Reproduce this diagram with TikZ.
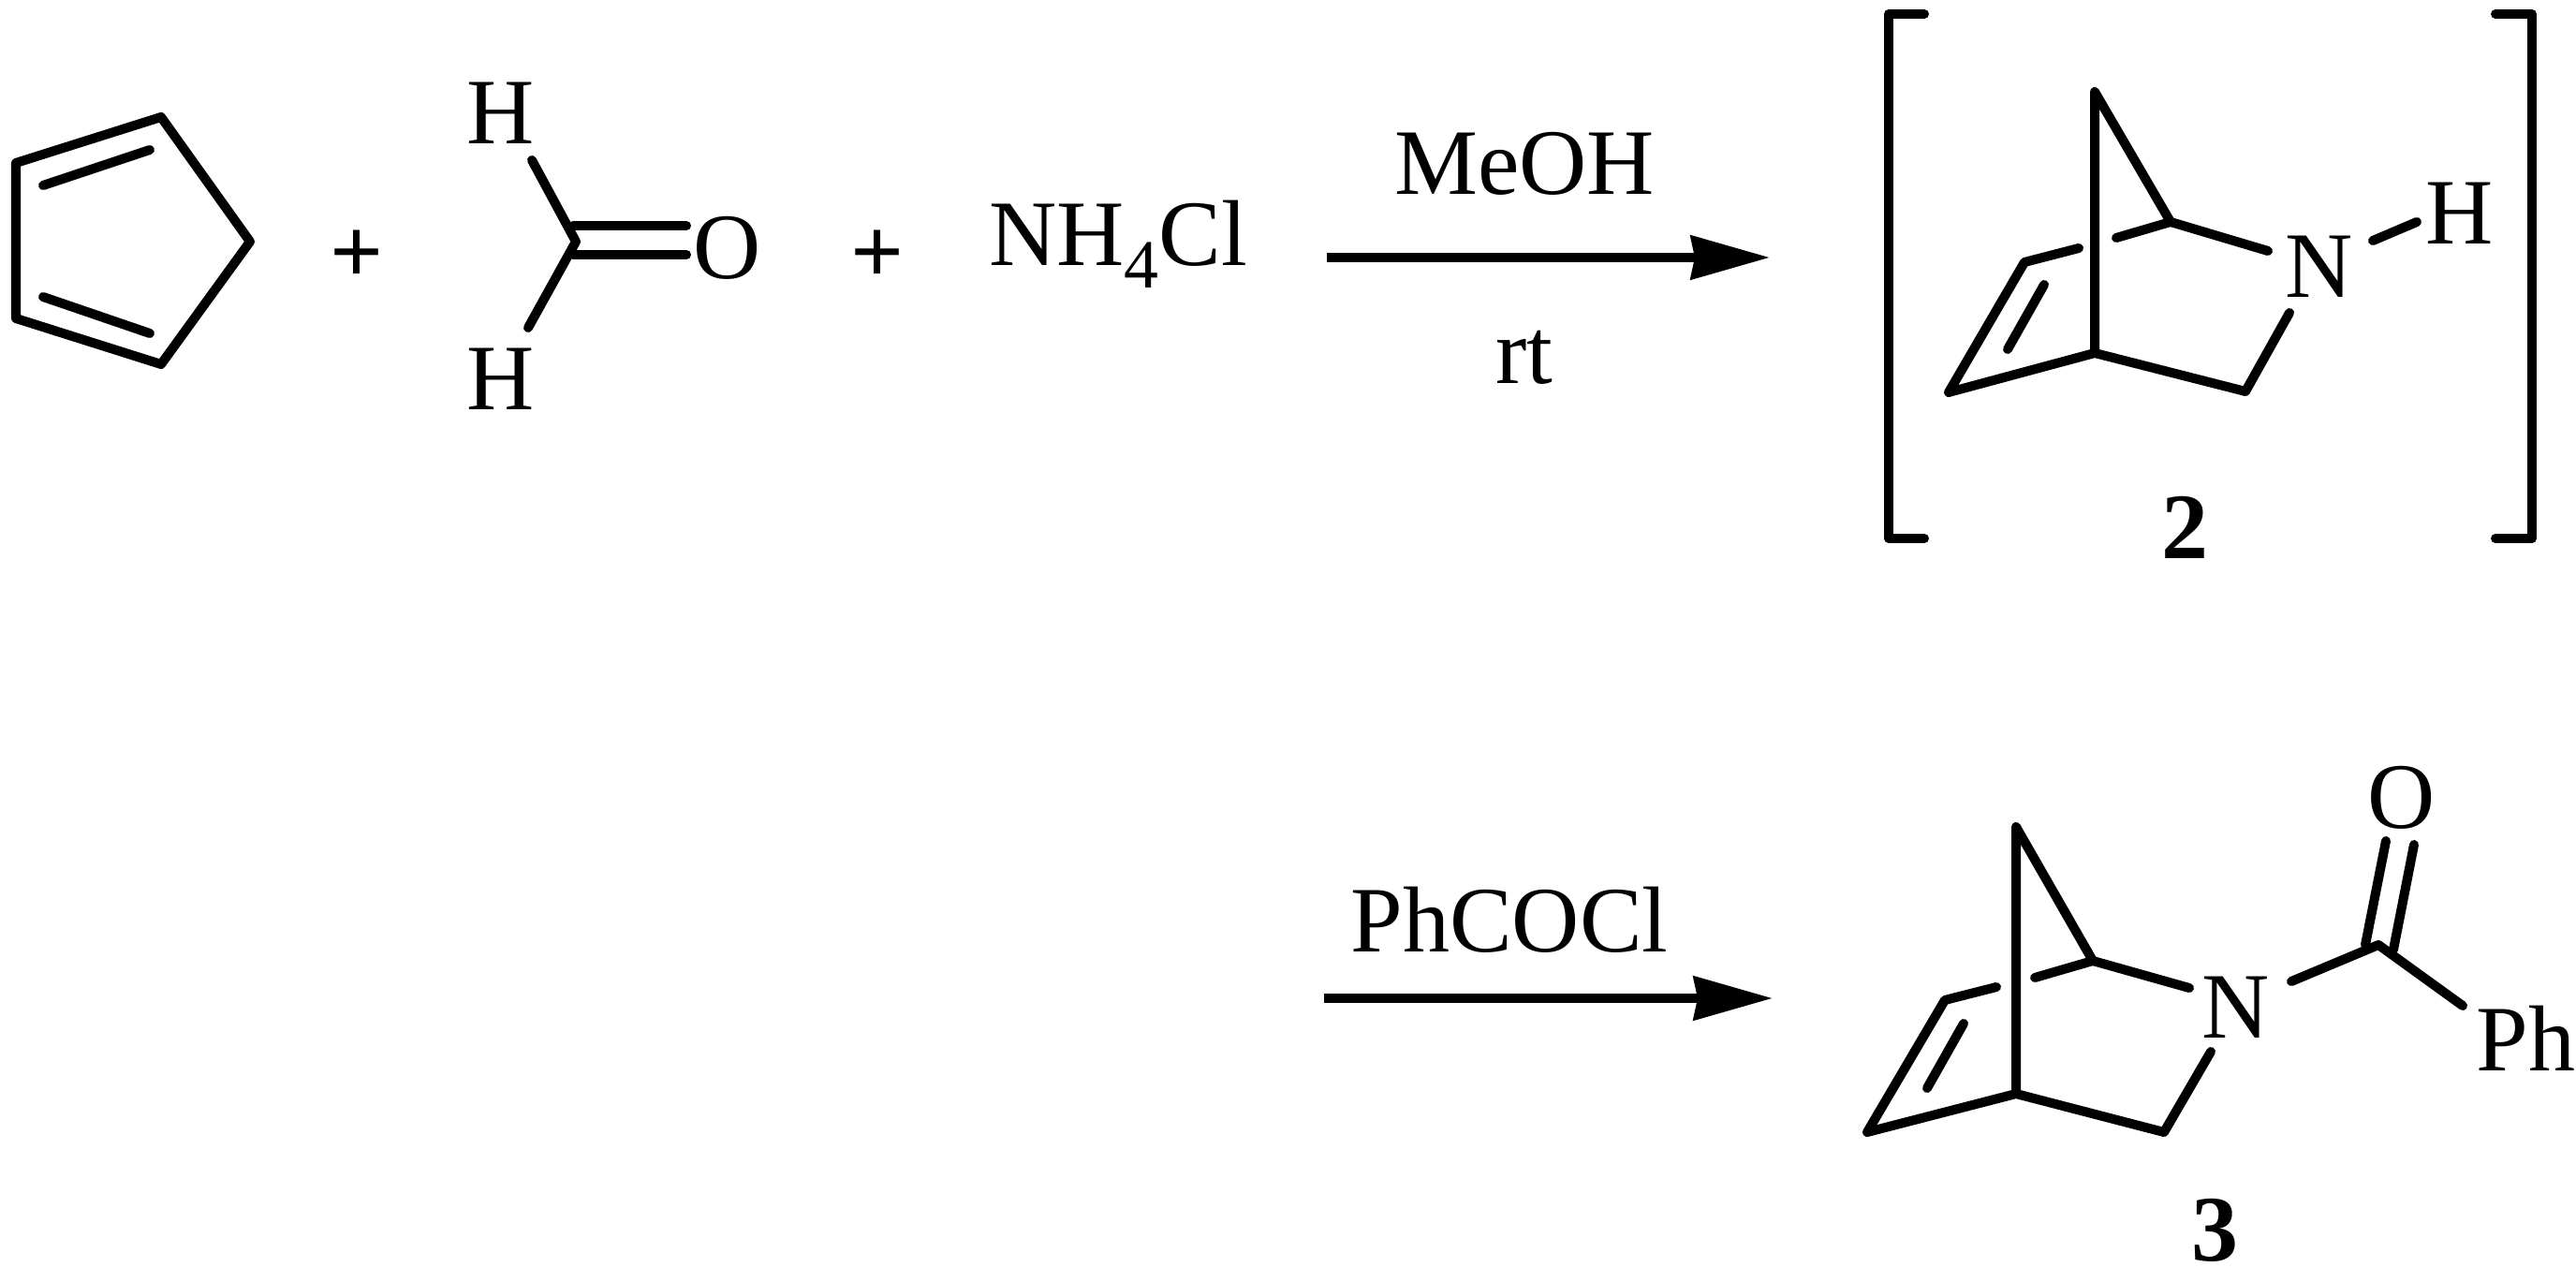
\documentclass[tikz,border=0pt]{standalone}
\usepackage{fontspec}
\setmainfont{Liberation Serif}
\usetikzlibrary{arrows.meta, positioning}
\newcommand{\lowsub}[1]{\raisebox{-.24cm}{\fontsize{21pt}{21pt}\selectfont #1}}

\begin{document}
\begin{tikzpicture}[bond/.style={line width=.1cm,line cap=round,line join=round},
	rxnarrow/.style={line width=.1cm,-{Stealth[length=.84cm,width=.46cm,inset=.04cm]}},
	chem/.style={inner sep=0pt,outer sep=0pt,font=\fontsize{28.45pt}{30pt}\selectfont,anchor=base}]
	\useasboundingbox (0,0) rectangle (27.51,-13.69);

	% cyclopentadiene
	\coordinate (cp1) at (1.72,-1.25);
	\coordinate (cp2) at (0.17,-1.74);
	\coordinate (cp3) at (0.17,-3.40);
	\coordinate (cp4) at (1.72,-3.89);
	\coordinate (cp5) at (2.67,-2.58);
	\coordinate (cpa) at (0.46,-1.98);
	\coordinate (cpb) at (1.60,-1.60);
	\coordinate (cpc) at (0.46,-3.17);
	\coordinate (cpd) at (1.60,-3.56);
	\draw[bond] (cp1) -- (cp2) -- (cp3) -- (cp4) -- (cp5) -- cycle;
	\path[bond]
		(cpa) edge (cpb)
		(cpc) edge (cpd);

	\node[chem] (plus1) at (3.81,-3.03) {\textbf{+}};

	% formaldehyde
	\node[chem] (h1) at (5.35,-1.54) {H};
	\node[chem] (h2) at (5.35,-4.38) {H};
	\node[chem] (o1) at (7.77,-2.98) {O};
	\coordinate (c1) at (6.15,-2.58);
	\coordinate (c1h1) at (5.68,-1.71);
	\coordinate (c1h2) at (5.64,-3.50);
	\coordinate (c1a) at (6.12,-2.41);
	\coordinate (c1b) at (7.33,-2.41);
	\coordinate (c1c) at (6.12,-2.72);
	\coordinate (c1d) at (7.33,-2.72);
	\draw[bond] (c1h1) -- (c1) -- (c1h2);
	\path[bond]
		(c1a) edge (c1b)
		(c1c) edge (c1d);

	\node[chem] (plus2) at (9.37,-3.03) {\textbf{+}};
	\node[chem,anchor=base west] (salt) at (10.56,-2.84) {NH\lowsub{4}Cl};

	% first step
	\coordinate (a1) at (14.17,-2.75);
	\coordinate (a2) at (18.90,-2.75);
	\draw[rxnarrow] (a1) -- (a2);
	\node[chem] (meoh) at (16.28,-2.08) {MeOH};
	\node[chem] (rt) at (16.28,-4.10) {rt};

	% intermediate 2
	\coordinate (bl1) at (20.55,-0.15);
	\coordinate (bl2) at (20.17,-0.15);
	\coordinate (bl3) at (20.17,-5.75);
	\coordinate (bl4) at (20.55,-5.75);
	\coordinate (br1) at (26.65,-0.15);
	\coordinate (br2) at (27.04,-0.15);
	\coordinate (br3) at (27.04,-5.75);
	\coordinate (br4) at (26.65,-5.75);
	\draw[bond] (bl1) -- (bl2) -- (bl3) -- (bl4);
	\draw[bond] (br1) -- (br2) -- (br3) -- (br4);
	\coordinate (t2) at (22.37,-0.98);
	\coordinate (u2) at (22.37,-3.77);
	\coordinate (v2) at (23.18,-2.37);
	\coordinate (w2) at (22.60,-2.54);
	\coordinate (x2) at (24.22,-2.68);
	\coordinate (l2) at (22.20,-2.65);
	\coordinate (m2) at (21.62,-2.80);
	\coordinate (n2) at (20.81,-4.19);
	\coordinate (p2) at (21.83,-3.04);
	\coordinate (q2) at (21.44,-3.73);
	\coordinate (r2) at (23.98,-4.18);
	\coordinate (s2) at (24.45,-3.34);
	\coordinate (y2) at (25.34,-2.57);
	\coordinate (z2) at (25.81,-2.37);
	\node[chem] (n2a) at (24.77,-3.18) {N};
	\node[chem] (h2a) at (26.27,-2.61) {H};
	\node[chem] (two) at (23.33,-5.97) {\textbf{2}};
	\draw[bond] (u2) -- (t2) -- (v2) -- (x2);
	\draw[bond] (w2) -- (v2);
	\draw[bond] (l2) -- (m2) -- (n2) -- (u2) -- (r2) -- (s2);
	\path[bond]
		(p2) edge (q2)
		(y2) edge (z2);

	% second step
	\coordinate (a3) at (14.14,-10.66);
	\coordinate (a4) at (18.93,-10.66);
	\draw[rxnarrow] (a3) -- (a4);
	\node[chem] (phcocl) at (16.12,-10.16) {PhCOCl};

	% product 3
	\coordinate (t3) at (21.53,-8.83);
	\coordinate (u3) at (21.53,-11.68);
	\coordinate (v3) at (22.35,-10.26);
	\coordinate (w3) at (21.73,-10.44);
	\coordinate (x3) at (23.38,-10.55);
	\coordinate (l3) at (21.32,-10.54);
	\coordinate (m3) at (20.77,-10.68);
	\coordinate (n3) at (19.94,-12.09);
	\coordinate (p3) at (20.97,-10.93);
	\coordinate (q3) at (20.58,-11.62);
	\coordinate (r3) at (23.11,-12.09);
	\coordinate (s3) at (23.61,-11.23);
	\coordinate (y3) at (24.47,-10.48);
	\coordinate (c3) at (25.40,-10.09);
	\coordinate (z3) at (26.30,-10.74);
	\coordinate (oa) at (25.26,-10.09);
	\coordinate (ob) at (25.48,-8.98);
	\coordinate (oc) at (25.56,-10.14);
	\coordinate (od) at (25.78,-9.02);
	\node[chem] (n3a) at (23.88,-11.08) {N};
	\node[chem] (o3) at (25.65,-8.84) {O};
	\node[chem,anchor=base east] (ph) at (27.50,-11.43) {Ph};
	\node[chem] (three) at (23.65,-13.46) {\textbf{3}};
	\draw[bond] (u3) -- (t3) -- (v3) -- (x3);
	\draw[bond] (w3) -- (v3);
	\draw[bond] (l3) -- (m3) -- (n3) -- (u3) -- (r3) -- (s3);
	\draw[bond] (y3) -- (c3) -- (z3);
	\path[bond]
		(p3) edge (q3)
		(oa) edge (ob)
		(oc) edge (od);
\end{tikzpicture}
\end{document}
